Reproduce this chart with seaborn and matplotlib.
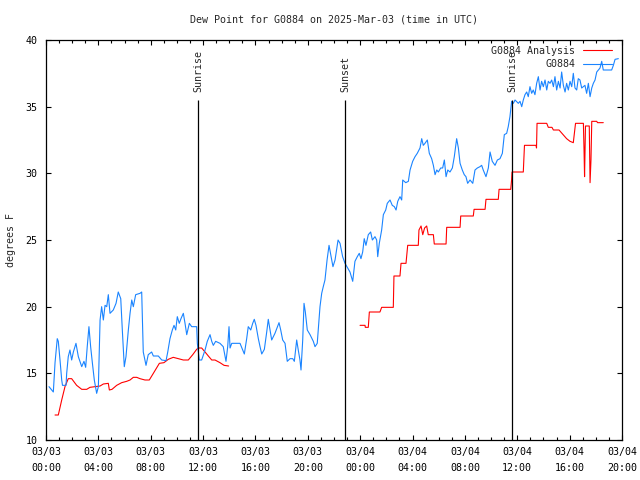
import numpy as np
import pandas as pd
import matplotlib
matplotlib.use("Agg")
import matplotlib.pyplot as plt
import matplotlib.dates as mdates
from matplotlib.lines import Line2D
import seaborn as sns

# ---------------- data (hours after 2025-03-03 00:00 UTC) ----------------
start = "2025-03-03 00:00"

obs_hours = [0.23, 0.56, 0.69, 0.86, 0.94, 1.07, 1.20, 1.26, 1.53, 1.58, 1.70, 1.83, 1.96, 2.09,
             2.29, 2.47, 2.73, 2.90, 3.03, 3.15, 3.28, 3.41, 3.54, 3.69, 3.87, 4.00, 4.13, 4.25,
             4.38, 4.51, 4.64, 4.76, 4.89, 5.14, 5.35, 5.52, 5.71, 5.83, 5.98, 6.11, 6.29, 6.42,
             6.55, 6.67, 6.85, 7.18, 7.31, 7.43, 7.64, 7.81, 8.07, 8.20, 8.58, 8.84, 9.17, 9.30,
             9.47, 9.65, 9.78, 9.91, 10.03, 10.18, 10.31, 10.49, 10.62, 10.75, 10.95, 11.13,
             11.51, 11.56, 11.71, 11.89, 12.15, 12.32, 12.53, 12.66, 12.78, 12.96, 13.29, 13.54,
             13.75, 13.88, 13.98, 14.06, 14.19, 14.82, 15.03, 15.15, 15.33, 15.45, 15.64, 15.79,
             15.91, 16.04, 16.22, 16.35, 16.48, 16.68, 16.86, 16.98, 17.11, 17.24, 17.49, 17.80,
             17.93, 18.08, 18.26, 18.43, 18.64, 18.85, 18.97, 19.15, 19.27, 19.40, 19.48, 19.61,
             19.71, 19.81, 19.96, 20.17, 20.42, 20.55, 20.72, 20.85, 20.93, 21.06, 21.18, 21.31,
             21.47, 21.62, 21.77, 21.92, 22.08, 22.31, 22.46, 22.66, 22.84, 23.22, 23.43, 23.60,
             23.78, 23.93, 24.06, 24.19, 24.31, 24.44, 24.62, 24.80, 24.93, 25.13, 25.26, 25.34,
             25.46, 25.64, 25.77, 25.95, 26.07, 26.28, 26.45, 26.61, 26.74, 26.87, 27.04, 27.17,
             27.25, 27.48, 27.68, 27.81, 28.01, 28.19, 28.36, 28.57, 28.70, 28.82, 28.95, 29.13,
             29.28, 29.46, 29.59, 29.72, 29.85, 29.97, 30.15, 30.30, 30.43, 30.56, 30.69, 30.86,
             31.04, 31.19, 31.37, 31.50, 31.63, 31.80, 31.95, 32.08, 32.21, 32.39, 32.60, 32.77,
             32.95, 33.15, 33.28, 33.40, 33.61, 33.79, 33.92, 34.09, 34.30, 34.48, 34.68, 34.86,
             35.01, 35.19, 35.31, 35.44, 35.57, 35.70, 35.83, 36.08, 36.21, 36.34, 36.46, 36.59,
             36.72, 36.84, 36.97, 37.10, 37.22, 37.35, 37.48, 37.61, 37.74, 37.86, 37.99, 38.12,
             38.25, 38.37, 38.50, 38.63, 38.76, 38.88, 39.01, 39.14, 39.27, 39.39, 39.52, 39.65,
             39.77, 39.90, 40.03, 40.16, 40.28, 40.41, 40.54, 40.66, 40.79, 40.92, 41.05, 41.17,
             41.30, 41.43, 41.56, 41.69, 41.81, 41.94, 42.07, 42.19, 42.32, 42.45, 42.57, 43.21,
             43.34, 43.47, 43.72]
obs_values = [14.0, 13.6, 15.8, 17.6, 17.4, 16.0, 14.5, 14.1, 14.1, 15.0, 16.25, 16.75, 16.0, 16.6,
              17.25, 16.25, 15.5, 15.9, 15.45, 17.0, 18.5, 17.0, 15.8, 14.5, 13.5, 14.0, 19.0, 20.0,
              19.0, 20.1, 20.0, 20.9, 19.5, 19.75, 20.25, 21.1, 20.6, 18.25, 15.5, 16.25, 18.25, 19.5,
              20.5, 20.0, 20.9, 21.0, 21.1, 16.6, 15.6, 16.4, 16.6, 16.3, 16.3, 16.0, 15.95, 16.6,
              17.6, 18.25, 18.6, 18.25, 19.25, 18.75, 19.1, 19.5, 18.75, 17.9, 18.75, 18.5,
              18.5, 17.25, 16.0, 16.0, 16.75, 17.4, 17.9, 17.4, 17.1, 17.4, 17.25, 17.0,
              15.9, 17.0, 18.5, 16.9, 17.25, 17.25, 16.75, 16.45, 17.6, 18.5, 18.25, 18.75,
              19.05, 18.6, 17.6, 17.0, 16.45, 16.8, 18.1, 19.05, 18.25, 17.5, 18.0, 18.8,
              18.25, 17.5, 17.25, 15.9, 16.1, 16.1, 15.9, 17.5, 16.75, 16.0, 15.25, 17.5,
              20.25, 19.6, 18.25, 17.9, 17.4, 17.0, 17.25, 19.0, 20.0, 21.0, 21.5, 22.0,
              23.5, 24.6, 23.8, 23.0, 23.5, 25.0, 24.75, 23.75, 23.25, 22.6, 21.9, 23.4,
              23.75, 24.0, 23.6, 24.1, 25.1, 24.6, 25.4, 25.6, 25.0, 25.25, 25.0, 23.75,
              24.75, 25.75, 26.9, 27.25, 27.75, 28.0, 27.6, 27.5, 27.25, 27.9, 28.25, 28.0,
              29.5, 29.3, 29.4, 30.25, 30.9, 31.25, 31.5, 31.9, 32.6, 32.1, 32.25, 32.5,
              31.5, 31.1, 30.6, 29.9, 30.25, 30.1, 30.4, 30.4, 31.0, 29.75, 30.25, 30.1,
              30.4, 31.25, 32.6, 31.9, 30.75, 30.25, 29.9, 29.75, 29.25, 29.5, 29.25, 30.25,
              30.4, 30.5, 30.6, 30.25, 29.75, 30.4, 31.6, 30.9, 30.6, 31.0, 31.1, 31.5,
              32.9, 33.0, 33.5, 34.25, 35.4, 35.25, 35.5, 35.25, 35.4, 35.0, 35.5, 35.9,
              36.1, 35.75, 36.5, 36.0, 36.25, 35.9, 36.75, 37.25, 36.25, 36.9, 36.5, 37.0,
              36.25, 36.9, 36.75, 37.0, 36.5, 37.25, 36.25, 36.9, 36.4, 37.6, 36.6, 36.1,
              36.75, 36.25, 36.9, 36.5, 37.5, 36.4, 36.25, 37.1, 37.0, 36.4, 36.5, 36.6,
              36.0, 36.75, 35.75, 36.4, 36.75, 37.0, 37.6, 37.75, 37.9, 38.4, 37.75, 37.75,
              38.1, 38.55, 38.6]

ana1_hours = [0.69, 0.94, 1.20, 1.45, 1.70, 1.96, 2.34, 2.73, 3.11, 3.36, 3.74, 4.13, 4.38, 4.76,
              4.84, 5.04, 5.40, 5.78, 6.16, 6.42, 6.67, 6.93, 7.18, 7.56, 7.89, 8.20, 8.66, 9.01,
              9.34, 9.72, 10.11, 10.49, 10.87, 11.21, 11.51, 11.63, 11.89, 12.15, 12.40, 12.66,
              12.91, 13.29, 13.60, 13.95]
ana1_values = [11.875, 11.875, 13.0, 14.0, 14.6, 14.6, 14.1, 13.8, 13.8, 13.95, 14.0, 14.05, 14.2, 14.25,
               13.75, 13.8, 14.1, 14.3, 14.4, 14.5, 14.7, 14.7, 14.6, 14.5, 14.5, 15.0, 15.75, 15.8,
               16.05, 16.2, 16.1, 16.0, 16.0, 16.4, 16.8, 16.9, 16.9, 16.6, 16.3, 16.0,
               16.0, 15.8, 15.6, 15.55]

ana2_hours = [23.99, 24.37, 24.39, 24.62, 24.70, 25.51, 25.64, 26.53, 26.58, 27.04, 27.12, 27.50,
              27.63, 28.44, 28.49, 28.65, 28.78, 28.92, 29.08, 29.20, 29.59, 29.66, 30.56, 30.61,
              31.63, 31.68, 32.64, 32.70, 33.54, 33.61, 34.55, 34.61, 35.50, 35.57, 35.60, 36.46,
              36.55, 37.43, 37.47, 37.51, 38.25, 38.37, 38.65, 38.76, 39.19, 39.77, 40.03, 40.28,
              40.45, 41.05, 41.10, 41.14, 41.21, 41.50, 41.56, 41.63, 41.69, 42.07, 42.13, 42.57]
ana2_values = [18.6, 18.6, 18.45, 18.45, 19.6, 19.6, 19.95, 19.95, 22.3, 22.3, 23.25, 23.25,
               24.6, 24.6, 25.75, 26.05, 25.4, 25.9, 26.05, 25.4, 25.4, 24.7, 24.7, 25.95,
               25.95, 26.8, 26.8, 27.3, 27.3, 28.05, 28.05, 28.8, 28.8, 29.55, 30.1, 30.1,
               32.1, 32.1, 31.9, 33.75, 33.75, 33.45, 33.45, 33.25, 33.25, 32.6, 32.4, 32.3,
               33.75, 33.75, 31.75, 29.75, 33.55, 33.55, 29.3, 31.0, 33.9, 33.9, 33.8, 33.8]

event_names = ["Sunrise", "Sunset", "Sunrise"]
event_times = ["2025-03-03 11:37", "2025-03-03 22:50", "2025-03-04 11:36"]

title = "Dew Point for G0884 on 2025-Mar-03 (time in UTC)"
ylabel = "degrees F"
obs_label = "G0884"
ana_label = "G0884 Analysis"

# ---------------- build frames ----------------
t0 = pd.Timestamp(start)
def frame(hours, values):
    return pd.DataFrame({"time": t0 + pd.to_timedelta(np.array(hours), unit="h"),
                         "value": values})

obs = frame(obs_hours, obs_values)
ana1 = frame(ana1_hours, ana1_values)
ana2 = frame(ana2_hours, ana2_values)

# ---------------- style ----------------
sns.set_style("ticks")
plt.rcParams["font.family"] = ["DejaVu Sans Mono", "DejaVu Sans"]
plt.rcParams["font.size"] = 7.2

blue = "#1a84ff"
red = "#ff0000"
lw = 0.8

fig = plt.figure(figsize=(6.4, 4.8), dpi=100)
ax = fig.add_axes([46 / 640, 40 / 480, 576 / 640, 400 / 480])

sns.lineplot(data=ana1, x="time", y="value", ax=ax, color=red, lw=lw,
             estimator=None, sort=False)
sns.lineplot(data=ana2, x="time", y="value", ax=ax, color=red, lw=lw,
             estimator=None, sort=False)
sns.lineplot(data=obs, x="time", y="value", ax=ax, color=blue, lw=lw,
             estimator=None, sort=False)

# events
for name, t in zip(event_names, event_times):
    tt = pd.Timestamp(t)
    ax.vlines(tt, 10, 35.5, color="black", lw=0.9)
    ax.text(tt, 36.1, name, rotation=90, ha="center", va="bottom", fontsize=7.2)

ax.set_xlim(pd.Timestamp("2025-03-03 00:00"), pd.Timestamp("2025-03-04 20:00"))
ax.set_ylim(10, 40)
ax.set_yticks(np.arange(10, 41, 5))

ax.xaxis.set_major_locator(mdates.HourLocator(byhour=range(0, 24, 4)))
ax.xaxis.set_minor_locator(mdates.HourLocator())
ax.xaxis.set_major_formatter(mdates.DateFormatter("%m/%d\n%H:%M"))

for s in ax.spines.values():
    s.set_visible(True)
    s.set_linewidth(0.9)
    s.set_color("black")

ax.tick_params(axis="both", which="both", direction="in", top=True, right=True,
               color="black", width=0.8, labelsize=7.2, labelcolor="black")
ax.tick_params(axis="both", which="major", length=3.5)
ax.tick_params(axis="x", which="minor", length=2)
ax.tick_params(axis="x", which="major", pad=5)
ax.tick_params(axis="y", which="major", pad=6)
for lab in ax.get_xticklabels():
    lab.set_linespacing(1.75)

ax.set_xlabel("")
ax.set_ylabel(ylabel, fontsize=7.2)
ax.yaxis.set_label_coords(-0.052, 0.5)
ax.set_title(title, fontsize=7.2, pad=12.5)

handles = [Line2D([], [], color=red, lw=lw), Line2D([], [], color=blue, lw=lw)]
ax.legend(handles, [ana_label, obs_label], loc="upper right",
          bbox_to_anchor=(1.0, 1.01), frameon=False,
          markerfirst=False, handlelength=2.9, handletextpad=0.8, labelspacing=0.35,
          borderaxespad=0.7, borderpad=0.3, fontsize=7.2)

fig.savefig("out.png", dpi=100)
